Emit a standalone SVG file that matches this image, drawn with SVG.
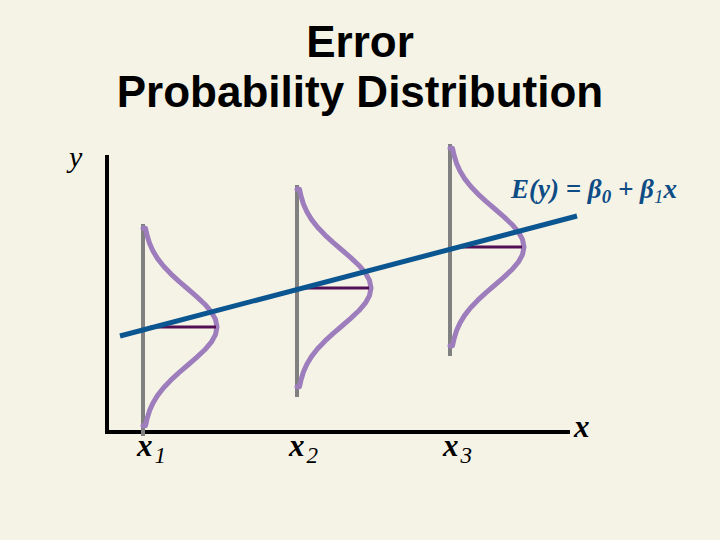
<svg xmlns="http://www.w3.org/2000/svg" xmlns:xlink="http://www.w3.org/1999/xlink" width="720" height="540" viewBox="0 0 720 540">
<style>
.title{font-family:"Liberation Sans",Arial,sans-serif;font-weight:bold;font-size:44px;fill:#000;text-anchor:middle}
.lab{font-family:"Liberation Serif","Times New Roman",serif;font-style:italic;fill:#000}
.eq{font-family:"Liberation Serif","Times New Roman",serif;font-style:italic;font-weight:bold;font-size:27px;fill:#0E4C86}
.axis{stroke:#000;stroke-width:4;fill:none}
.grid{stroke:#808080;stroke-width:4;fill:none}
.bell{stroke:#9E7DBD;stroke-width:5;fill:none;stroke-linejoin:round;stroke-linecap:round}
.mean{stroke:#530F55;stroke-width:3;fill:none}
.reg{stroke:#0B5591;stroke-width:5;fill:none}
</style>
<defs>
<path id="bellShape" d="M0,-98.8 L2.5,-98.8 L4.2,-91.2 L6.6,-83.6 L10,-76 L14.6,-68.4 L20.6,-60.8 L27.8,-53.2 L36,-45.6 L44.9,-38 L53.7,-30.4 L61.8,-22.8 L68.3,-15.2 L72.5,-7.6 L74,0 L72.5,7.6 L68.3,15.2 L61.8,22.8 L53.7,30.4 L44.9,38 L36,45.6 L27.8,53.2 L20.6,60.8 L14.6,68.4 L10,76 L6.6,83.6 L4.2,91.2 L2.5,98.8 L0,98.8"/>
</defs>
<rect width="720" height="540" fill="#F5F3E5"/>
<g id="title">
<text class="title" x="360" y="57">Error</text>
<text class="title" x="360" y="107">Probability Distribution</text>
</g>
<g id="axes">
<polyline class="axis" points="107,155 107,432 570,432"/>
<text class="lab" x="69" y="167" font-size="30">y</text>
<text class="lab" x="574" y="437" font-size="31" font-weight="bold">x</text>
</g>
<g id="dist1">
<line class="grid" x1="143" y1="224" x2="143" y2="436"/>
<use xlink:href="#bellShape" class="bell" transform="translate(143,327)"/>
<line class="mean" x1="150" y1="327" x2="216" y2="327"/>
</g>
<g id="dist2">
<line class="grid" x1="297" y1="185" x2="297" y2="397"/>
<use xlink:href="#bellShape" class="bell" transform="translate(297,288)"/>
<line class="mean" x1="304" y1="288" x2="369" y2="288"/>
</g>
<g id="dist3">
<line class="grid" x1="450" y1="144" x2="450" y2="356"/>
<use xlink:href="#bellShape" class="bell" transform="translate(450,247)"/>
<line class="mean" x1="457" y1="247" x2="522" y2="247"/>
</g>
<g id="connectors">
<line class="reg" x1="120" y1="336" x2="577" y2="216"/>
</g>
<g id="equation">
<text class="eq" x="511" y="198">E(y) = β<tspan font-size="19" dy="5">0</tspan><tspan dy="-5"> + β</tspan><tspan font-size="19" font-weight="normal" dy="5">1</tspan><tspan dy="-5">x</tspan></text>
</g>
<g id="xlabels">
<text class="lab" x="137" y="456" font-size="31" font-weight="bold">x<tspan font-size="23" font-weight="normal" dx="2" dy="7">1</tspan></text>
<text class="lab" x="289" y="456" font-size="31" font-weight="bold">x<tspan font-size="23" font-weight="normal" dx="2" dy="7">2</tspan></text>
<text class="lab" x="443" y="456" font-size="31" font-weight="bold">x<tspan font-size="23" font-weight="normal" dx="2" dy="7">3</tspan></text>
</g>
</svg>
